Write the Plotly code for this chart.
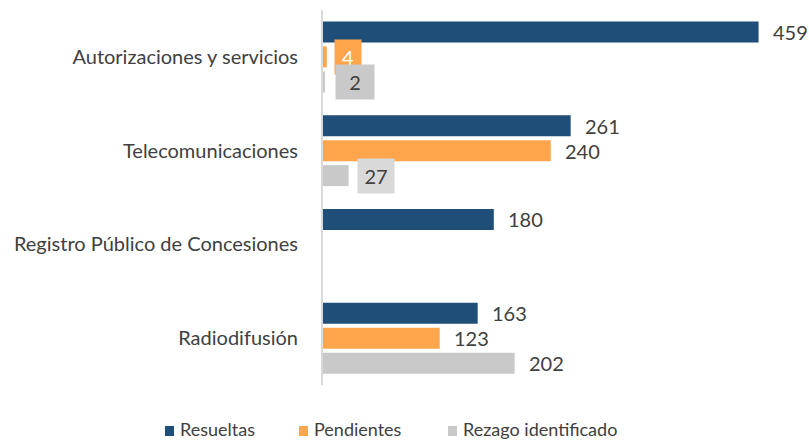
import plotly.graph_objects as go

categories = ["Autorizaciones y servicios", "Telecomunicaciones",
              "Registro Público de Concesiones", "Radiodifusión"]
resueltas = [459, 261, 180, 163]
pendientes = [4, 240, 0, 123]
rezago = [2, 27, 0, 202]

series = [
    ("Resueltas", resueltas, "#1F4E79"),
    ("Pendientes", pendientes, "#FFA64D"),
    ("Rezago identificado", rezago, "#C9C9C9"),
]
# labels drawn inside a coloured box in the original: (bg, text colour, xshift, width)
boxed = {("Pendientes", 0): ("#FFA64D", "white", 7, 16),
         ("Rezago identificado", 0): ("#C9C9C9", "#404040", 10, 28),
         ("Rezago identificado", 1): ("#D9D9D9", "#404040", 8, 26)}

FONT = "Lato, 'Open Sans', sans-serif"
TXT = "#404040"
W, H = 809, 442
ML, MR, MT, MB = 323, 21, 10, 57
PW, PH = W - ML - MR, H - MT - MB

def px_to_paper(px, py):
    return (px - ML) / PW, (H - MB - py) / PH

fig = go.Figure()
for name, vals, col in series:
    fig.add_trace(go.Bar(
        y=categories, x=vals, name=name, orientation="h", showlegend=False,
        marker=dict(color=col, line=dict(width=0)),
    ))

n = len(series)
annotations = []
shapes = []
for si, (name, vals, col) in enumerate(series):
    for ci, v in enumerate(vals):
        if v == 0:
            continue
        off = (si - (n - 1) / 2) * 0.8 / n
        box = boxed.get((name, ci))
        a = dict(x=v, y=ci + off, xref="x", yref="y", text=str(v),
                 showarrow=False, xanchor="left", yanchor="middle",
                 font=dict(family=FONT, size=20, color=TXT))
        if box:
            a.update(bgcolor=box[0], borderpad=5, xshift=box[2], width=box[3],
                     font=dict(family=FONT, size=20, color=box[1]))
        else:
            a.update(xshift=12)
        annotations.append(a)

# legend drawn below the plot (square + label), positions in pixels
legend_square_x = [165, 299, 448]
for (name, vals, col), sx in zip(series, legend_square_x):
    x0, y0 = px_to_paper(sx, 436)
    x1, y1 = px_to_paper(sx + 9, 426)
    shapes.append(dict(type="rect", xref="paper", yref="paper",
                       x0=x0, x1=x1, y0=y0, y1=y1,
                       fillcolor=col, line=dict(width=0)))
    tx, ty = px_to_paper(sx + 13, 429)
    annotations.append(dict(x=tx, y=ty, xref="paper", yref="paper", text=name,
                            showarrow=False, xanchor="left", yanchor="middle",
                            font=dict(family=FONT, size=18, color=TXT)))

fig.update_layout(
    width=W, height=H,
    margin=dict(l=ML, r=MR, t=MT, b=MB, autoexpand=False),
    paper_bgcolor="white", plot_bgcolor="white",
    barmode="group", bargap=0.2, bargroupgap=0.16,
    showlegend=False,
    annotations=annotations, shapes=shapes,
    font=dict(family=FONT, size=20, color=TXT),
)
fig.update_xaxes(range=[0, 490], showgrid=False, zeroline=False,
                 showticklabels=False, showline=False, automargin=False)
fig.update_yaxes(autorange="reversed", showline=True, linecolor="#D9D9D9",
                 linewidth=2, ticks="", ticklabelstandoff=19, automargin=False,
                 tickfont=dict(family=FONT, size=20, color=TXT))
fig.write_html("out.html", config={"displayModeBar": False},
               post_script="document.body.style.margin='0';")
